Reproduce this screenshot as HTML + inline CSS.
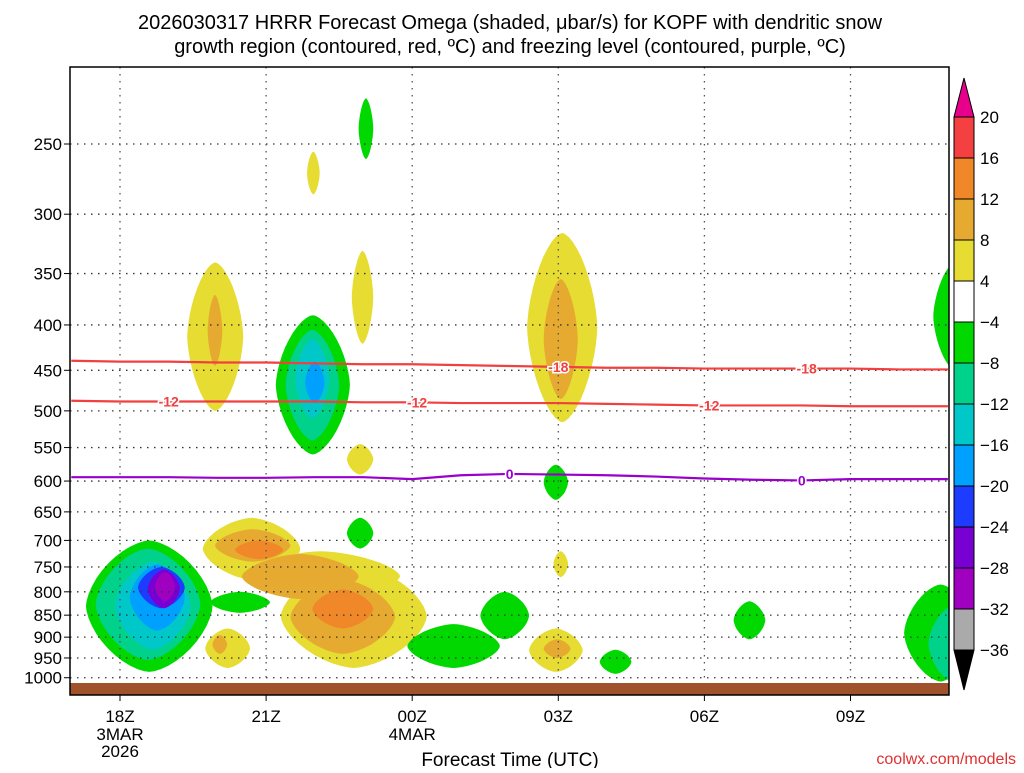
<!DOCTYPE html>
<html><head><meta charset="utf-8"><style>
body{margin:0;background:#fff;width:1024px;height:768px;overflow:hidden}
svg{font-family:"Liberation Sans",sans-serif}
</style></head><body>
<svg id="c" width="1024" height="768" xmlns="http://www.w3.org/2000/svg">
<defs><clipPath id="pc"><rect x="70" y="67" width="879" height="628"/></clipPath></defs>
<text x="510" y="29" text-anchor="middle" font-size="20">2026030317 HRRR Forecast Omega (shaded, μbar/s) for KOPF with dendritic snow</text>
<text x="510" y="53" text-anchor="middle" font-size="20">growth region (contoured, red, ºC) and freezing level (contoured, purple, ºC)</text>
<g id="plot" clip-path="url(#pc)"></g>
<g id="grid"></g>
<g id="lines" clip-path="url(#pc)"></g>
<rect x="70" y="683" width="879" height="12" fill="#a0522d"/>
<rect x="70" y="67" width="879" height="628" fill="none" stroke="#000" stroke-width="1.5"/>
<g id="axes"></g>
<g id="cbar"></g>
<text x="510" y="766" text-anchor="middle" font-size="19">Forecast Time (UTC)</text>
<text x="1016" y="764" text-anchor="end" font-size="16" fill="#e03030">coolwx.com/models</text>
</svg>
<script>
const pressureTicks=[250,300,350,400,450,500,550,600,650,700,750,800,850,900,950,1000];
const timeTickHours=[0,3,6,9,12,15];
const timeTickLabels=["18Z","21Z","00Z","03Z","06Z","09Z"];
const timeTickSub=[["3MAR","2026"],[],["4MAR"],[],[],[]];
const cbLevels=[20,16,12,8,4,-4,-8,-12,-16,-20,-24,-28,-32,-36];
const cbColors=["#f44040","#f0882a","#e6aa30","#e6dc32","#ffffff","#00d800","#00d28c","#00c8c8","#00a0ff","#1e3cff","#7800d2","#a000c0","#aaaaaa"];
// blobs: [hourStart, hourEnd, pTop, pBottom, level]
const blobs=[
[-0.7,1.9,700,985,-4],[1.85,3.08,800,845,-4],[-0.5,1.65,715,955,-8],[-0.1,1.45,740,930,-12],[0.2,1.33,745,885,-16],[0.37,1.33,750,835,-20],[0.57,1.23,755,835,-24],[0.72,1.13,760,820,-28],
[1.7,3.7,660,775,4],[2.5,5.75,720,820,4],[3.3,6.3,745,975,4],[1.95,3.5,680,740,8],[2.5,4.9,725,815,8],[3.5,5.65,775,940,8],[2.36,3.35,700,735,12],[3.95,5.2,795,880,12],
[1.75,2.67,880,975,4],[1.9,2.2,895,940,8],
[4.66,5.2,660,715,-4],[5.9,7.8,870,975,-4],[7.4,8.4,800,905,-4],
[8.4,9.5,880,985,4],[8.7,9.25,905,950,8],[9.85,10.5,930,990,-4],[12.6,13.25,820,905,-4],
[16.1,17.6,785,1010,-4],[16.6,17.6,830,1010,-8],[16.7,17.6,340,450,-4],
[1.38,2.53,340,500,4],[1.8,2.1,370,445,8],
[3.2,4.72,390,560,-4],[3.4,4.5,405,540,-8],[3.6,4.3,415,510,-12],[3.8,4.2,440,490,-16],
[4.76,5.2,330,420,4],[3.84,4.1,255,285,4],[4.9,5.2,222,260,-4],[4.66,5.2,545,590,4],
[8.36,9.8,315,515,4],[8.7,9.4,355,485,8],[8.7,9.2,575,630,-4],[8.9,9.2,720,770,4]
];
const lineHours=[-1,0,1,2,3,4,5,6,7,8,9,10,11,12,13,14,15,16,17];
const dgz18=[439,440,440,441,441,442,443,443,444,445,446,447,447,448,448,448,448,449,449];
const dgz12=[487,488,488,488,488,488,489,489,490,490,490,491,492,493,493,493,494,494,494];
const frz0=[594,594,594,595,595,594,594,597,591,589,590,591,593,596,598,599,597,597,597];
const lbl18Hours=[9,14.1];const lbl12Hours=[1,6.1,12.1];const lbl0Hours=[8,14];

const NS="http://www.w3.org/2000/svg";
const X=h=>120+48.7*h;
const Y=p=>144+385*Math.log(p/250);
function mk(t,a,par){const e=document.createElementNS(NS,t);for(const k in a)e.setAttribute(k,a[k]);document.getElementById(par).appendChild(e);return e;}
function col(l){const i=cbLevels.indexOf(l);return cbColors[l>0?i-1:i];}
// shading: superellipse shapes (slightly pointed like contour fills)
blobs.forEach(b=>{const x0=X(b[0]),x1=X(b[1]),y0=Y(b[2]),y1=Y(b[3]);
 const cx=(x0+x1)/2,cy=(y0+y1)/2,rx=(x1-x0)/2,ry=(y1-y0)/2,n=1.6;
 let pts=[];for(let k=0;k<48;k++){const a=k/48*2*Math.PI,c=Math.cos(a),s=Math.sin(a);
  pts.push((cx+rx*Math.sign(c)*Math.pow(Math.abs(c),2/n)).toFixed(1)+','+(cy+ry*Math.sign(s)*Math.pow(Math.abs(s),2/n)).toFixed(1));}
 const e=mk('polygon',{points:pts.join(' '),fill:col(b[4])},'plot');
 
 });
// grid
pressureTicks.forEach(p=>{const l=mk('line',{x1:70,x2:949,y1:Y(p),y2:Y(p),stroke:'#333','stroke-width':1.3,'stroke-dasharray':'1.5 5.5'},'grid');
 
 
 const t=mk('text',{x:62,y:Y(p)+6,'text-anchor':'end','font-size':17},'axes');t.textContent=p;
 
 
 const k=mk('line',{x1:64,x2:70,y1:Y(p),y2:Y(p),stroke:'#000'},'axes');
 
 });
timeTickHours.forEach((h,i)=>{const x=X(h);
 const l=mk('line',{x1:x,x2:x,y1:67,y2:695,stroke:'#555','stroke-width':1.3,'stroke-dasharray':'1.5 5.5'},'grid');
 
 
 const k=mk('line',{x1:x,x2:x,y1:695,y2:701,stroke:'#000'},'axes');
 
 
 const t=mk('text',{x:x,y:722,'text-anchor':'middle','font-size':17},'axes');t.textContent=timeTickLabels[i];
 
 
 timeTickSub[i].forEach((s,j)=>{const u=mk('text',{x:x,y:740+17*j,'text-anchor':'middle','font-size':17},'axes');u.textContent=s;
 
 });});
// contour lines
function drawLine(vals,color,name,lh,lab){
 const d=vals.map((p,i)=>(i?'L':'M')+X(lineHours[i])+','+Y(p)).join(' ');
 const pl=mk('path',{d:d,fill:'none',stroke:color,'stroke-width':2.2},'lines');
 
 
 lh.forEach(h=>{const i0=Math.floor(h)+1,f=h-Math.floor(h);const p=vals[i0]+(vals[i0+1]-vals[i0])*f;
  const t=mk('text',{x:X(h),y:Y(p)+5,'text-anchor':'middle','font-size':14,'font-weight':'bold',fill:color,stroke:'#fff','stroke-width':3,'paint-order':'stroke'},'lines');t.textContent=lab;
  
  });}
drawLine(dgz18,'#f04040','dgz-minus18-line',lbl18Hours,'-18');
drawLine(dgz12,'#f04040','dgz-minus12-line',lbl12Hours,'-12');
drawLine(frz0,'#9900cc','freezing-level-line',lbl0Hours,'0');
// colorbar
const cbTop=117,cbStep=41,cx0=954,cw=20;
cbColors.forEach((c,i)=>{const r=mk('rect',{x:cx0,y:cbTop+i*cbStep,width:cw,height:cbStep,fill:c,stroke:'#000','stroke-width':1},'cbar');
 
 });
cbLevels.forEach((l,i)=>{const t=mk('text',{x:980,y:cbTop+i*cbStep+6,'font-size':17},'cbar');t.textContent=l<0?'−'+(-l):l;
 
 });
const tt=mk('polygon',{points:`${cx0},${cbTop} ${cx0+cw},${cbTop} ${cx0+cw/2},78`,fill:'#e6008c',stroke:'#000'},'cbar');


const bt=mk('polygon',{points:`${cx0},${cbTop+13*cbStep} ${cx0+cw},${cbTop+13*cbStep} ${cx0+cw/2},690`,fill:'#000',stroke:'#000'},'cbar');


</script>
</body></html>
